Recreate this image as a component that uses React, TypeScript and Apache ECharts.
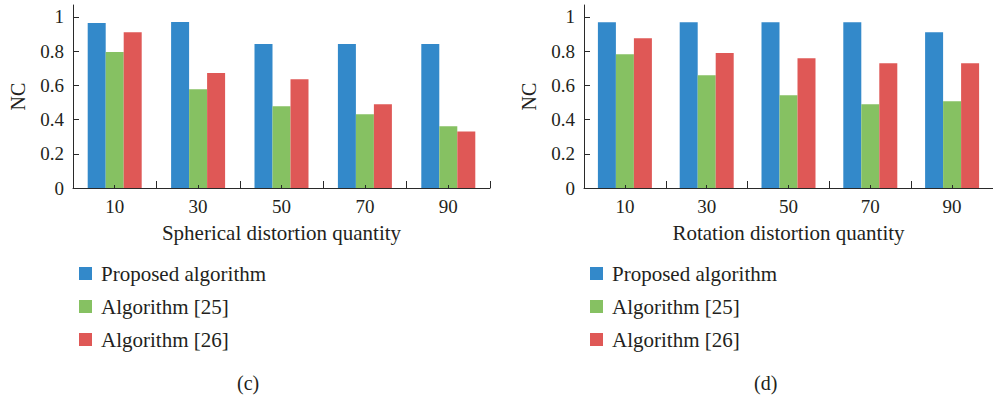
import React, { useEffect, useRef } from "react";
import * as echarts from "echarts";

const categories = ["10", "30", "50", "70", "90"];
const seriesNames = ["Proposed algorithm", "Algorithm [25]", "Algorithm [26]"];
const colors = ["#3389CA", "#86C162", "#DF5856"];

const sphericalProposed = [0.965, 0.971, 0.842, 0.842, 0.842];
const sphericalAlg25 = [0.795, 0.577, 0.478, 0.431, 0.361];
const sphericalAlg26 = [0.911, 0.673, 0.636, 0.489, 0.331];

const rotationProposed = [0.969, 0.969, 0.969, 0.969, 0.911];
const rotationAlg25 = [0.782, 0.659, 0.542, 0.489, 0.507];
const rotationAlg26 = [0.875, 0.789, 0.758, 0.729, 0.729];

const yTicks = [0, 0.2, 0.4, 0.6, 0.8, 1];
const panelTitles = ["Spherical distortion quantity", "Rotation distortion quantity"];
const panelLabels = ["(c)", "(d)"];

const FONT = "Liberation Serif, Times New Roman, serif";
const TEXT = "#231f20";
const AXIS = "#2a2a2a";

export default function App() {
  const ref = useRef<HTMLDivElement>(null);

  useEffect(() => {
    if (!ref.current) return;
    const chart = echarts.init(ref.current, undefined, { renderer: "svg" });
    const panels = [
      { left: 73, data: [sphericalProposed, sphericalAlg25, sphericalAlg26] },
      { left: 584, data: [rotationProposed, rotationAlg25, rotationAlg26] },
    ];

    const grid = panels.map((p) => ({ left: p.left, top: 5, width: 417, height: 183 }));

    const xAxis: any[] = [];
    const yAxis: any[] = [];
    panels.forEach((_, i) => {
      xAxis.push({
        type: "category",
        gridIndex: i,
        position: "bottom",
        data: categories,
        name: panelTitles[i],
        nameLocation: "middle",
        nameGap: 34,
        nameTextStyle: { fontFamily: FONT, fontSize: 21, color: TEXT },
        axisLine: { show: true, lineStyle: { color: AXIS, width: 1 } },
        axisTick: { show: true, inside: true, length: 7, lineStyle: { color: AXIS } },
        axisLabel: { fontFamily: FONT, fontSize: 19, color: TEXT, margin: 9 },
      });
    });
    panels.forEach((_, i) => {
      xAxis.push({
        type: "category",
        gridIndex: i,
        position: "bottom",
        data: categories,
        axisLine: { show: false },
        axisTick: { show: true, inside: true, alignWithLabel: true, length: 3, lineStyle: { color: AXIS } },
        axisLabel: { show: false },
        z: 5,
      });
    });
    panels.forEach((_, i) => {
      yAxis.push({
        type: "value",
        gridIndex: i,
        min: 0,
        max: 1.07,
        interval: 0.2,
        name: "NC",
        nameLocation: "middle",
        nameGap: 45,
        nameRotate: 90,
        nameTextStyle: { fontFamily: FONT, fontSize: 20, color: TEXT },
        splitLine: { show: false },
        axisLine: { show: true, lineStyle: { color: AXIS, width: 1 } },
        axisTick: { show: true, inside: true, length: 6, customValues: yTicks, lineStyle: { color: AXIS } },
        axisLabel: {
          fontFamily: FONT,
          fontSize: 19,
          color: TEXT,
          margin: 9,
          customValues: yTicks,
          formatter: (v: number) => String(Math.round(v * 10) / 10),
        },
      });
    });

    const series: any[] = [];
    panels.forEach((p, i) => {
      p.data.forEach((vals, k) => {
        series.push({
          type: "bar",
          name: seriesNames[k],
          xAxisIndex: i,
          yAxisIndex: i,
          data: vals,
          barWidth: 18,
          barGap: "0%",
          itemStyle: { color: colors[k] },
        });
      });
    });

    const legend = panels.map((p) => ({
      orient: "vertical",
      left: p.left + 1,
      top: 258,
      icon: "rect",
      itemWidth: 13,
      itemHeight: 13,
      itemGap: 12,
      selectedMode: false,
      data: seriesNames,
      textStyle: { fontFamily: FONT, fontSize: 21, color: TEXT, lineHeight: 20, padding: [0, 0, 0, 4] },
    }));

    chart.setOption({
      animation: false,
      backgroundColor: "#ffffff",
      color: colors,
      grid,
      xAxis,
      yAxis,
      series,
      legend,
      graphic: [
        {
          type: "text",
          left: 249 - 12,
          top: 373,
          style: { text: panelLabels[0], fontFamily: FONT, fontSize: 20, fill: TEXT },
        },
        {
          type: "text",
          left: 766 - 12,
          top: 373,
          style: { text: panelLabels[1], fontFamily: FONT, fontSize: 20, fill: TEXT },
        },
      ],
    });
    return () => chart.dispose();
  }, []);

  return (
    <div
      ref={ref}
      style={{ position: "fixed", left: 0, top: 0, width: 993, height: 396, background: "#fff" }}
    />
  );
}
